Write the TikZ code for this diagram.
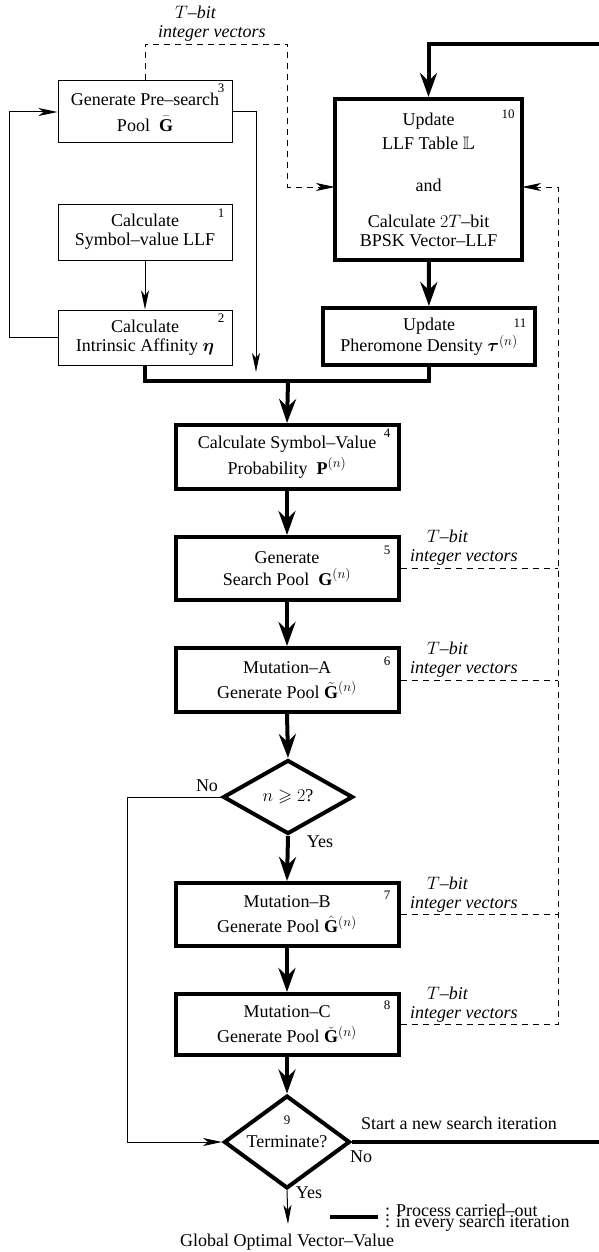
\RequirePackage{fix-cm}
\documentclass[tikz,border=0pt]{standalone}
\usepackage{amsmath,amssymb}
\usepackage{fontspec}
\setmainfont{Liberation Serif}
\usetikzlibrary{arrows.meta,shapes.geometric}
\DeclareMathSizes{18}{18}{13.5}{9}

\tikzset{
  basefont/.style={font=\fontsize{18}{19}\selectfont},
  thinbox/.style={draw, line width=1pt, align=center, inner sep=0pt, minimum width=174pt, basefont},
  thickbox/.style={draw, line width=4pt, align=center, inner sep=0pt, basefont},
  midbox/.style={thickbox, minimum width=223pt},
  decision/.style={diamond, draw, line width=4pt, inner sep=0pt, align=center, basefont},
  numlabel/.style={font=\fontsize{13}{13}\selectfont, inner sep=0pt},
  txt/.style={basefont, inner sep=0pt},
  veclabel/.style={font=\fontsize{18}{19}\selectfont\itshape, align=left, inner sep=0pt, anchor=west},
  legendtext/.style={font={\fontsize{18}{11}\selectfont\lineskiplimit-30pt\relax}, align=left, inner sep=0pt, anchor=west},
  thinl/.style={line width=1pt},
  thickl/.style={line width=4pt, line join=miter},
  thinarrow/.style={thinl, -{Stealth[length=19pt,width=8pt,inset=5pt]}},
  thickarrow/.style={thickl, -{Stealth[length=24pt,width=17pt,inset=8pt]}},
  dashl/.style={line width=0.9pt, dash pattern=on 6pt off 5pt},
  dasharrow/.style={dashl, -{Stealth[length=19pt,width=8pt,inset=5pt]}},
}

\begin{document}
\begin{tikzpicture}[x=1pt,y=-1pt]
\useasboundingbox (0,0) rectangle (599,1252);

% left column boxes
\node[thinbox, minimum height=62pt] (b3) at (145,112) {Generate Pre–search\\[7pt]Pool~~$\bar{\mathbf{G}}$};
\node[thinbox, minimum height=56pt] (b1) at (145,232) {Calculate\\Symbol–value LLF};
\node[thinbox, minimum height=55pt] (b2) at (145,337.5) {Calculate\\Intrinsic Affinity $\boldsymbol{\eta}$};

% right column boxes
\node[thickbox, minimum width=187pt, minimum height=161pt] (b10) at (428.5,179.5)
  {Update\\[5pt]LLF Table $\mathbb{L}$\\[23pt]and\\[17pt]Calculate $2T$–bit\\BPSK Vector–LLF};
\node[thickbox, minimum width=212pt, minimum height=57pt] (b11) at (429,336.5)
  {Update\\Pheromone Density $\boldsymbol{\tau}^{(n)}$};

% main column
\node[midbox, minimum height=64pt] (b4) at (287,457) {Calculate Symbol–Value\\[4pt]Probability~~$\mathbf{P}^{(n)}$};
\node[midbox, minimum height=63pt] (b5) at (287,568.5) {Generate\\[3pt]Search Pool~~$\mathbf{G}^{(n)}$};
\node[midbox, minimum height=64pt] (b6) at (287,680) {Mutation–A\\[6pt]Generate Pool~$\tilde{\mathbf{G}}^{(n)}$};
\node[decision, minimum width=130pt, minimum height=74pt] (d1) at (288,797) {$n\geqslant 2$?};
\node[midbox, minimum height=63pt] (b7) at (287,914.5) {Mutation–B\\[6pt]Generate Pool~$\hat{\mathbf{G}}^{(n)}$};
\node[midbox, minimum height=61pt] (b8) at (287,1024.5) {Mutation–C\\[6pt]Generate Pool~$\check{\mathbf{G}}^{(n)}$};
\node[decision, minimum width=126pt, minimum height=73pt] (d9) at (287,1142) {\raisebox{-3pt}{Terminate?}};
\node[txt] (g) at (287,1242) {Global Optimal Vector–Value};

% step numbers
\node[numlabel] (n3) at (221,88) {3};
\node[numlabel] (n1) at (221,213) {1};
\node[numlabel] (n2) at (221,318) {2};
\node[numlabel] (n10) at (508,114) {10};
\node[numlabel] (n11) at (520,323) {11};
\node[numlabel] (n4) at (387,433) {4};
\node[numlabel] (n5) at (387,550) {5};
\node[numlabel] (n6) at (387,661) {6};
\node[numlabel] (n7) at (387,895) {7};
\node[numlabel] (n8) at (387,1005) {8};
\node[numlabel] (n9) at (287,1120) {9};

% coordinates
\coordinate (loopx) at (9,0);
\coordinate (c3a) at (256,112);
\coordinate (c3b) at (256,372);
\coordinate (jn) at (288,381);
\coordinate (tr) at (600,44);
\coordinate (br) at (600,1142);
\coordinate (t1) at (145,44);
\coordinate (t2) at (287,44);
\coordinate (t3) at (287,187);
\coordinate (t4) at (335,187);
\coordinate (r1) at (558,1024.5);
\coordinate (r2) at (558,187);
\coordinate (r3) at (522,187);
\coordinate (noL) at (127,797);
\coordinate (yesend) at (288,1224);
\coordinate (lg1) at (330,1217);
\coordinate (lg2) at (378,1217);

% thin connectors
\draw[thinarrow] (b1) -- (b2);
\draw[thinarrow] (b2.west) -- (b2.west -| loopx) |- (b3.west);
\draw[thinarrow] (b3.east) -- (c3a) -- (c3b);

% thick merge
\draw[thickl] (b2.south) -- (b2.south |- jn) -- (b11.south |- jn) -- (b11.south);
\draw[thickarrow] (jn) -- (b4.north);
\draw[thickarrow] (b10) -- (b11);
\draw[thickarrow] (tr) -| (b10.north);
\draw[thickarrow] (b4) -- (b5);
\draw[thickarrow] (b5) -- (b6);
\draw[thickarrow] (b6.south) -- (d1.north);
\draw[thickarrow] (d1.south) -- (b7.north);
\draw[thickarrow] (b7) -- (b8);
\draw[thickarrow] (b8.south) -- (d9.north);
\draw[thickl] (d9.east) -- (br);

% No branch and exit
\draw[thinarrow] (d1.west) -- (noL) |- (d9.west);
\draw[thinarrow] (d9.south) -- (yesend);

% dashed connectors
\draw[dasharrow] (b3.north) -- (t1) -- (t2) -- (t3) -- (t4);
\draw[dasharrow] (b8.east) -- (r1) -- (r2) -- (r3);
\draw[dashl] (b5.east) -- (b5.east -| r1);
\draw[dashl] (b6.east) -- (b6.east -| r1);
\draw[dashl] (b7.east) -- (b7.east -| r1);

% dashed labels
\node[veclabel] (v3) at (158,24) {\hspace*{17pt}$T$–bit\\integer vectors};
\node[veclabel] (v5) at (410,548) {\hspace*{17pt}$T$–bit\\integer vectors};
\node[veclabel] (v6) at (410,660) {\hspace*{17pt}$T$–bit\\integer vectors};
\node[veclabel] (v7) at (410,895) {\hspace*{17pt}$T$–bit\\integer vectors};
\node[veclabel] (v8) at (410,1005) {\hspace*{17pt}$T$–bit\\integer vectors};

% branch labels
\node[txt] (no1) at (207,786) {No};
\node[txt] (yes1) at (320,842) {Yes};
\node[txt] (no9) at (361,1157) {No};
\node[txt] (yes9) at (309,1193) {Yes};
\node[txt] (start) at (459,1123) {Start a new search iteration};

% legend
\draw[thickl] (lg1) -- (lg2);
\node[legendtext] (leg) at (385,1218) {: Process carried–out\\: in every search iteration};
\end{tikzpicture}
\end{document}
